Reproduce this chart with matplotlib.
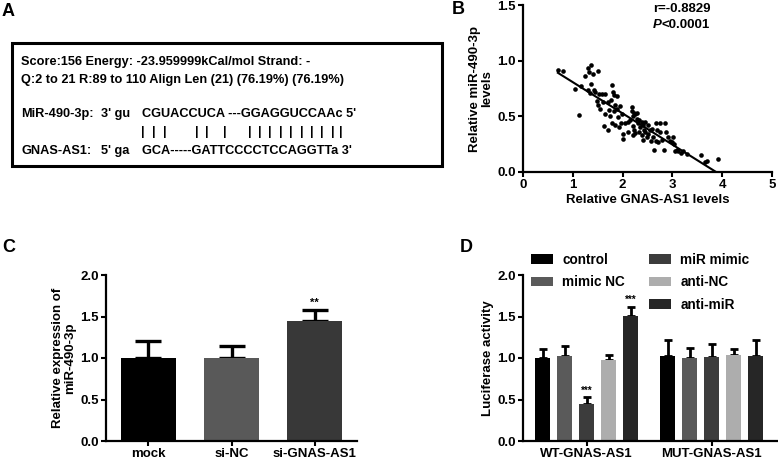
import numpy as np
import matplotlib
matplotlib.use("Agg")
import matplotlib.pyplot as plt
from matplotlib.patches import Rectangle, Patch

plt.rcParams['font.family'] = ['Liberation Sans', 'DejaVu Sans']
plt.rcParams['font.weight'] = 'bold'
plt.rcParams['axes.labelweight'] = 'bold'
FS = 9.5

# ---------------- data ----------------
# Panel A text
a_line1 = "Score:156 Energy: -23.959999kCal/mol Strand: -"
a_line2 = "Q:2 to 21 R:89 to 110 Align Len (21) (76.19%) (76.19%)"
mir_name, mir_end, mir_seq = "MiR-490-3p:", "3' gu", "CGUACCUCA ---GGAGGUCCAAc 5'"
gnas_name, gnas_end, gnas_seq = "GNAS-AS1:", "5' ga", "GCA-----GATTCCCCTCCAGGTTa 3'"

# Panel B scatter
gnas_levels = [0.70, 0.80, 1.05, 1.12, 1.17, 1.25, 1.30, 1.32, 1.37, 1.40, 1.50, 1.36, 1.30, 1.42,
               1.35, 1.52, 1.58, 1.65, 1.78, 1.80, 1.82, 1.88, 1.48, 1.50, 1.55, 1.60, 1.70, 1.76,
               1.85, 1.72, 1.82, 1.88, 1.95, 1.65, 1.75, 1.90, 1.62, 1.70, 1.78, 1.85, 1.92, 1.97,
               2.00, 2.00, 2.05, 2.10, 2.18, 2.22, 2.25, 2.20, 2.28, 2.33, 2.38, 2.30, 2.20, 2.23,
               2.25, 2.20, 2.35, 2.40, 2.42, 2.45, 2.38, 2.40, 2.48, 2.52, 2.55, 2.60, 2.63, 2.68,
               2.76, 2.70, 2.75, 2.62, 2.68, 2.72, 2.88, 2.92, 2.95, 3.00, 3.04, 3.02, 2.84, 3.05,
               3.12, 3.22, 3.30, 3.57, 3.65, 3.70, 3.92, 2.15, 2.28, 2.10, 2.45, 2.58, 1.98, 2.32,
               2.50, 3.10, 1.45, 2.18, 2.80, 3.18, 2.85]
mir_levels = [0.92, 0.91, 0.75, 0.51, 0.77, 0.86, 0.93, 0.90, 0.96, 0.88, 0.91, 0.79, 0.74, 0.74,
              0.71, 0.70, 0.70, 0.70, 0.78, 0.72, 0.69, 0.68, 0.64, 0.60, 0.57, 0.63, 0.63, 0.65,
              0.60, 0.56, 0.55, 0.57, 0.59, 0.52, 0.50, 0.49, 0.41, 0.38, 0.44, 0.42, 0.40, 0.44,
              0.34, 0.30, 0.44, 0.45, 0.55, 0.53, 0.52, 0.50, 0.48, 0.47, 0.45, 0.44, 0.41, 0.38,
              0.35, 0.33, 0.40, 0.42, 0.38, 0.36, 0.33, 0.29, 0.31, 0.34, 0.38, 0.39, 0.20, 0.44,
              0.44, 0.38, 0.36, 0.31, 0.28, 0.27, 0.36, 0.31, 0.28, 0.27, 0.25, 0.31, 0.20, 0.19,
              0.19, 0.19, 0.16, 0.15, 0.09, 0.10, 0.12, 0.47, 0.53, 0.36, 0.45, 0.28, 0.52, 0.36,
              0.42, 0.20, 0.72, 0.58, 0.29, 0.17, 0.44]
corr_text = "r=-0.8829"
p_text = "<0.0001"

# Panel C
c_groups = ["mock", "si-NC", "si-GNAS-AS1"]
c_values = [1.00, 1.00, 1.44]
c_errors = [0.20, 0.15, 0.14]
c_colors = ["#000000", "#595959", "#383838"]

# Panel D
d_groups = ["WT-GNAS-AS1", "MUT-GNAS-AS1"]
d_series = ["control", "mimic NC", "miR mimic", "anti-NC", "anti-miR"]
d_values = {
    "control":   [1.00, 1.03],
    "mimic NC":  [1.02, 1.00],
    "miR mimic": [0.44, 1.01],
    "anti-NC":   [0.97, 1.04],
    "anti-miR":  [1.51, 1.03],
}
d_errors = {
    "control":   [0.11, 0.19],
    "mimic NC":  [0.12, 0.12],
    "miR mimic": [0.09, 0.16],
    "anti-NC":   [0.07, 0.07],
    "anti-miR":  [0.11, 0.19],
}
d_colors = ["#000000", "#5a5a5a", "#3c3c3c", "#adadad", "#262626"]

# ---------------- figure ----------------
W, H = 778, 462
fig = plt.figure(figsize=(W / 100, H / 100), dpi=100)

def fx(px):
    return px / W

def fy(py):
    return 1 - py / H

def style_axes(ax):
    for s in ['top', 'right']:
        ax.spines[s].set_visible(False)
    for s in ['left', 'bottom']:
        ax.spines[s].set_linewidth(1.6)
    ax.tick_params(direction='out', length=3.5, width=1.5, labelsize=FS, pad=1.5)

# Panel letters
for letter, (px, py) in zip("ABCD", [(2, 11), (452, 9), (2, 247), (460, 247)]):
    fig.text(fx(px), fy(py), letter, fontsize=13, fontweight='bold', va='center', ha='left')

# ---------------- Panel A ----------------
AFS = 9.2
fig.patches.append(Rectangle((fx(12), fy(166)), fx(442) - fx(12), fy(43) - fy(166),
                             transform=fig.transFigure, fill=False, lw=2.2, ec='black'))
fig.text(fx(21), fy(62), a_line1, va='center', ha='left', fontsize=AFS)
fig.text(fx(21), fy(80), a_line2, va='center', ha='left', fontsize=AFS)
fig.text(fx(21), fy(114), mir_name, va='center', ha='left', fontsize=AFS)
fig.text(fx(101), fy(114), mir_end, va='center', ha='left', fontsize=AFS)
fig.text(fx(142), fy(114), mir_seq, va='center', ha='left', fontsize=AFS)
fig.text(fx(21), fy(151), gnas_name, va='center', ha='left', fontsize=AFS)
fig.text(fx(101), fy(151), gnas_end, va='center', ha='left', fontsize=AFS)
fig.text(fx(142), fy(151), gnas_seq, va='center', ha='left', fontsize=AFS)
pair_x = [143, 153.5, 165, 197, 207, 225, 249.5, 260, 270, 280.5, 291, 301.5, 311.5, 322, 332.5, 341]
for px in pair_x:
    fig.text(fx(px), fy(132), "|", va='center', ha='center', fontsize=9, fontweight='bold')

# ---------------- Panel B ----------------
axB = fig.add_axes([fx(523), fy(172), fx(772) - fx(523), fy(5) - fy(172)])
style_axes(axB)
gx = np.array(gnas_levels)
my = np.array(mir_levels)
axB.scatter(gx, my, s=11, color='black', zorder=3, linewidths=0)
slope, icpt = np.polyfit(gx, my, 1)
x_end = -icpt / slope
xl = np.array([gx.min(), x_end])
axB.plot(xl, slope * xl + icpt, color='black', lw=1.5, zorder=2)
axB.set_xlim(0, 5)
axB.set_ylim(0, 1.5)
axB.set_xticks([0, 1, 2, 3, 4, 5])
axB.set_yticks([0, 0.5, 1.0, 1.5])
axB.set_yticklabels(["0.0", "0.5", "1.0", "1.5"])
axB.set_xlabel("Relative GNAS-AS1 levels", fontsize=FS, labelpad=2)
axB.set_ylabel("Relative miR-490-3p\nlevels", fontsize=FS, labelpad=3, linespacing=1.05)
fig.text(fx(653), fy(9), corr_text, va='center', ha='left', fontsize=FS)
tP = fig.text(fx(653), fy(25), "P", va='center', ha='left', fontsize=FS, style='italic')
axB.annotate(p_text, xy=(1, 0.5), xycoords=tP, va='center', ha='left', fontsize=FS,
             annotation_clip=False)

# ---------------- Panel C ----------------
axC = fig.add_axes([fx(106), fy(441), fx(357) - fx(106), fy(275) - fy(441)])
style_axes(axC)
xc = np.arange(len(c_groups))
axC.bar(xc, c_values, width=0.66, color=c_colors, zorder=2)
axC.errorbar(xc, c_values, yerr=[np.zeros(len(c_values)), c_errors], fmt='none',
             ecolor='black', elinewidth=2.4, capsize=9.5, capthick=2.4, zorder=1)
axC.set_xlim(-0.51, 2.51)
axC.set_ylim(0, 2.0)
axC.set_xticks(xc)
axC.set_xticklabels(c_groups)
axC.set_yticks([0, 0.5, 1.0, 1.5, 2.0])
axC.set_yticklabels(["0.0", "0.5", "1.0", "1.5", "2.0"])
axC.set_ylabel("Relative expression of\nmiR-490-3p", fontsize=FS, labelpad=3, linespacing=1.05)
axC.text(xc[2], c_values[2] + c_errors[2] + 0.08, "**", ha='center', va='center', fontsize=8)

# ---------------- Panel D ----------------
axD = fig.add_axes([fx(523), fy(441), fx(777) - fx(523), fy(275) - fy(441)])
style_axes(axD)
xg = np.arange(len(d_groups))
bw = 0.12
step = 0.176
handles = []
for i, (name, col) in enumerate(zip(d_series, d_colors)):
    pos = xg + (i - 2) * step
    axD.bar(pos, d_values[name], width=bw, color=col, zorder=2)
    axD.errorbar(pos, d_values[name], yerr=[np.zeros(len(xg)), d_errors[name]], fmt='none',
                 ecolor='black', elinewidth=2.0, capsize=3.0, capthick=2.0, zorder=1)
    handles.append(Patch(facecolor=col, edgecolor='none', label=name))
axD.set_xlim(-0.508, 1.524)
axD.set_ylim(0, 2.0)
axD.set_xticks(xg)
axD.set_xticklabels(d_groups)
axD.set_yticks([0, 0.5, 1.0, 1.5, 2.0])
axD.set_yticklabels(["0.0", "0.5", "1.0", "1.5", "2.0"])
axD.set_ylabel("Luciferase activity", fontsize=FS, labelpad=2.5)
# stars
mm = d_values["miR mimic"][0] + d_errors["miR mimic"][0]
am = d_values["anti-miR"][0] + d_errors["anti-miR"][0]
axD.text(xg[0] + 0 * step, mm + 0.08, "***", ha='center', va='center', fontsize=7)
axD.text(xg[0] + 2 * step, am + 0.08, "***", ha='center', va='center', fontsize=7)

blank = Patch(facecolor='none', edgecolor='none', label='')
leg_handles = [handles[0], handles[1], blank, handles[2], handles[3], handles[4]]
leg = axD.legend(handles=leg_handles, labels=[h.get_label() for h in leg_handles], ncol=2,
                 loc='upper left', bbox_to_anchor=(fx(531), fy(253)), bbox_transform=fig.transFigure,
                 frameon=False, borderpad=0, borderaxespad=0, handlelength=1.6, handleheight=0.7,
                 handletextpad=0.7, columnspacing=1.75, labelspacing=0.62, fontsize=9.8)

fig.savefig("out.png", dpi=100)
